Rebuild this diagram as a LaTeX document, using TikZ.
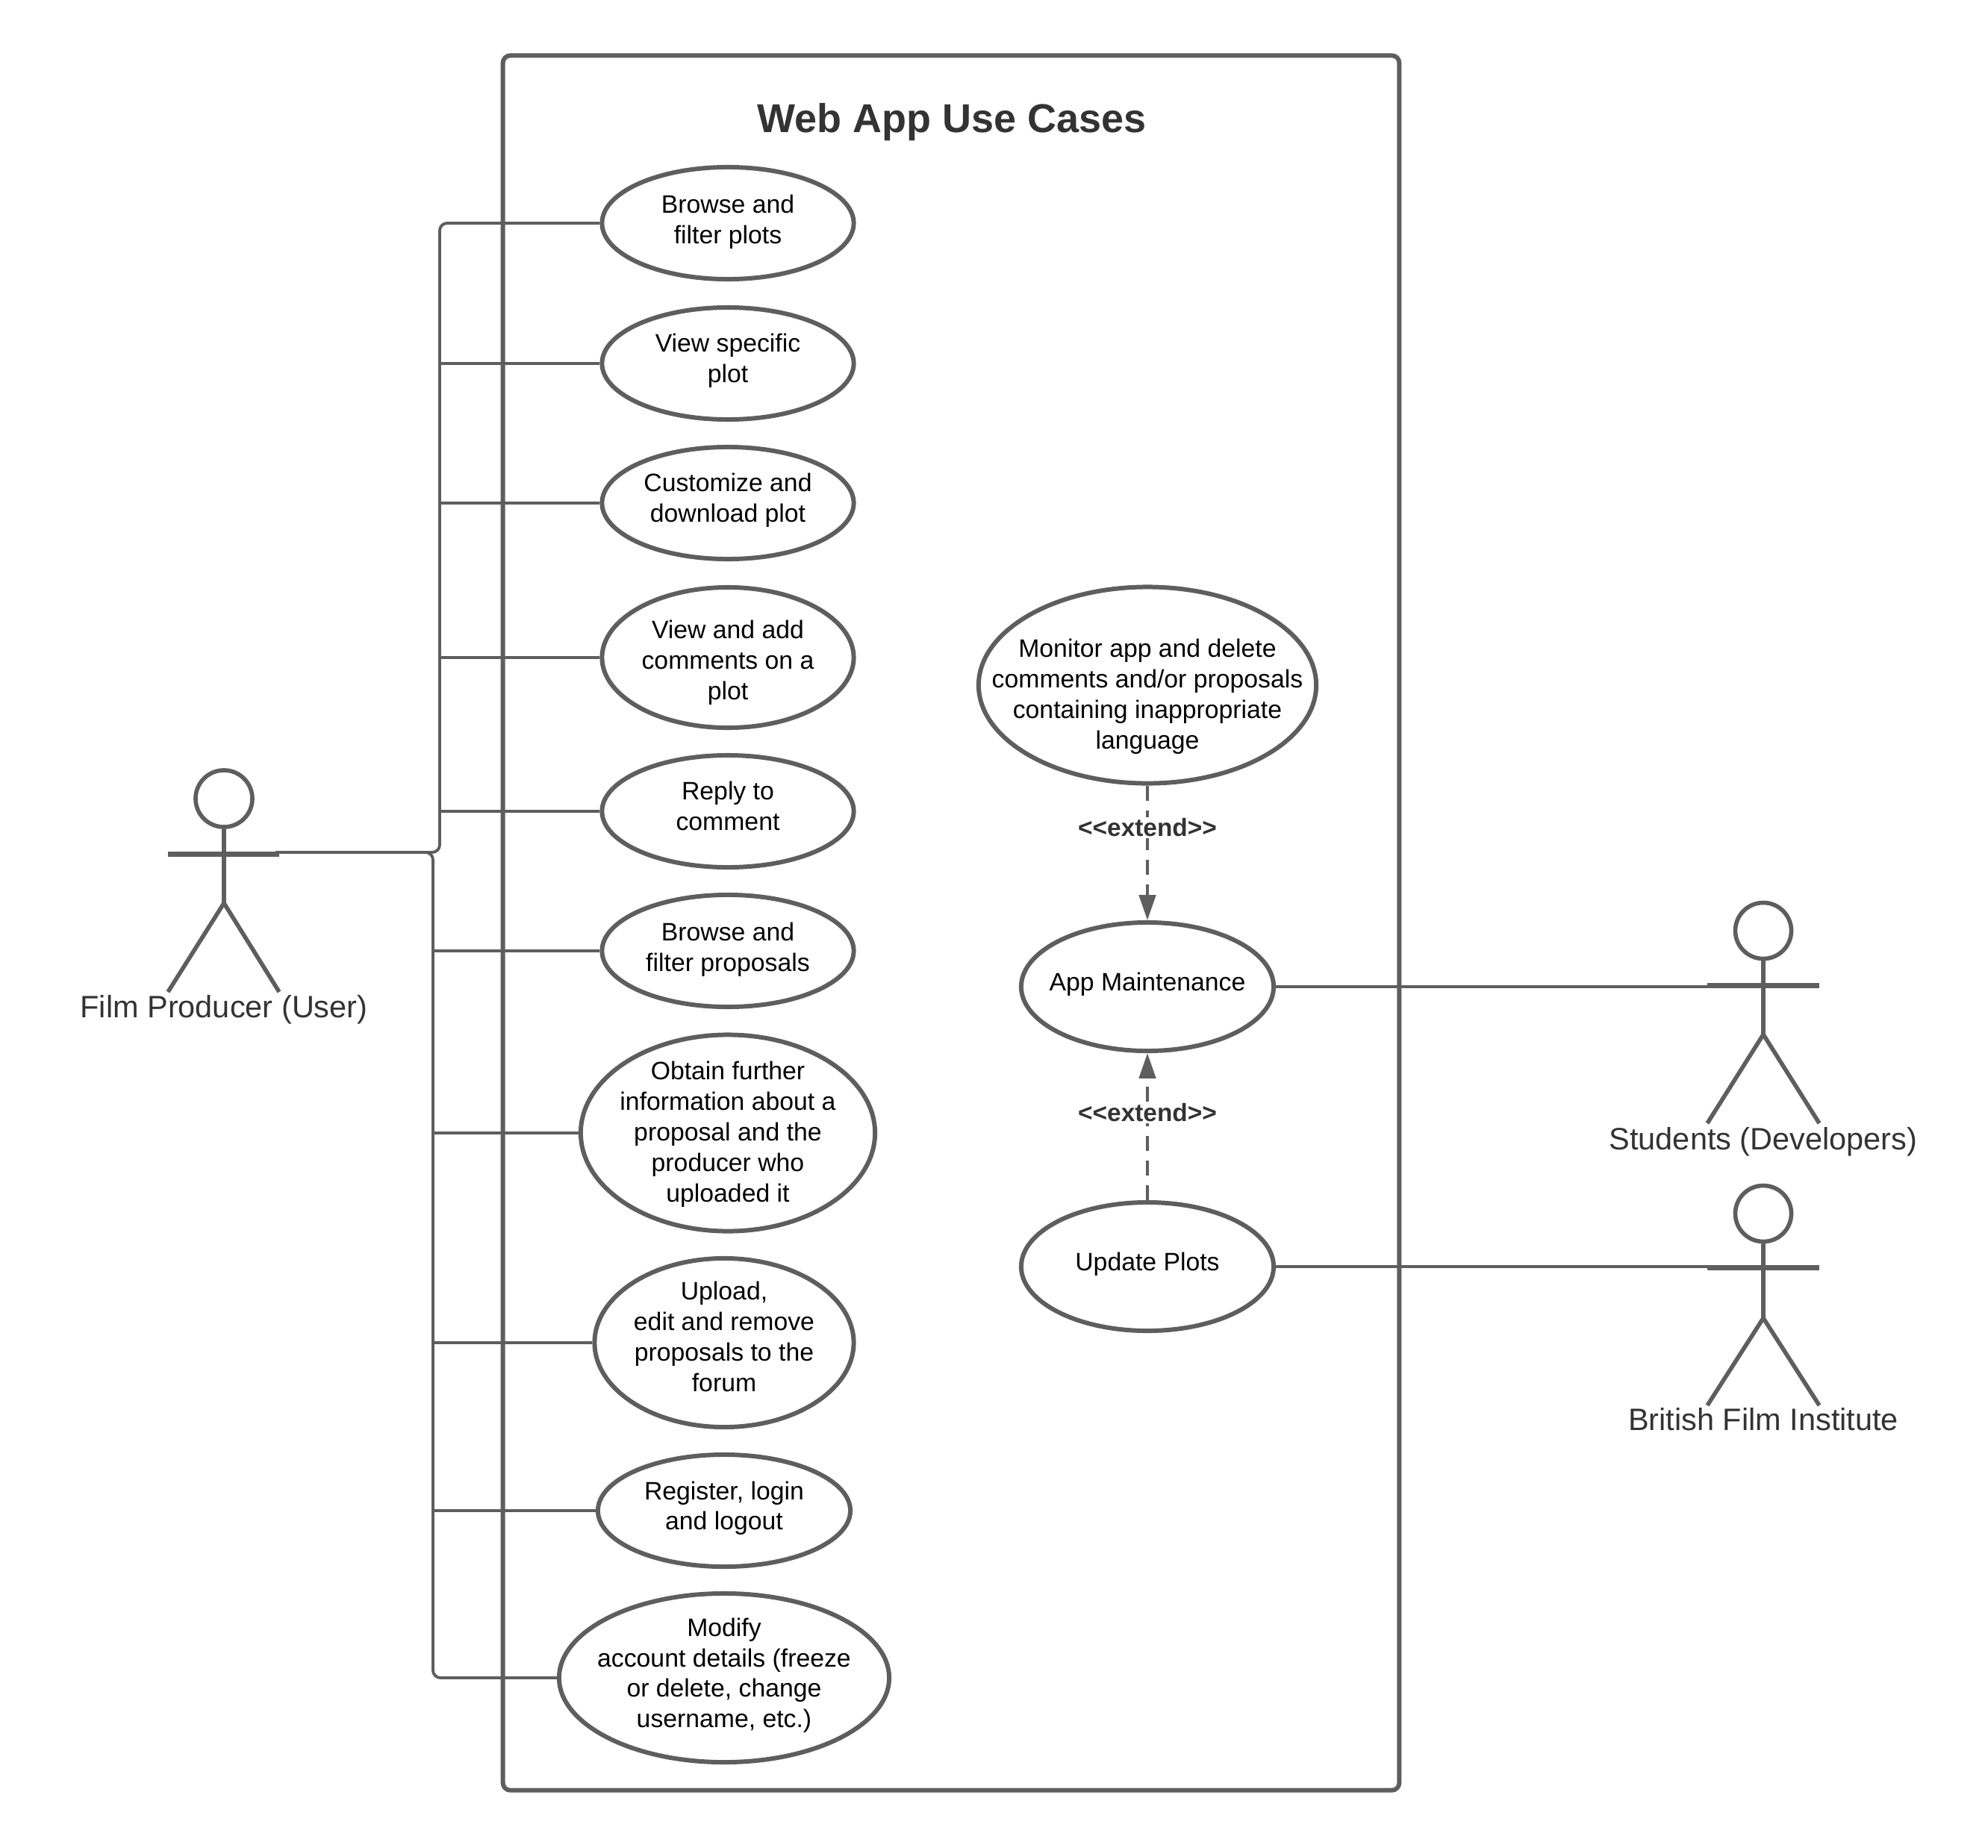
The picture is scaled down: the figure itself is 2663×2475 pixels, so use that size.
\documentclass[tikz,border=0pt]{standalone}
\usepackage{fontspec}
\setmainfont{Liberation Sans}
\usetikzlibrary{arrows.meta,shapes.geometric}
\definecolor{linegrey}{HTML}{5E5E5E}
\definecolor{textgrey}{HTML}{333333}
\newcommand{\toppad}[1]{\rule{0pt}{#1pt}}
\newcommand{\botpad}[1]{\rule[-#1pt]{0pt}{#1pt}}
\tikzset{
  usecase/.style={draw=linegrey,line width=1.7pt,ellipse,fill=white,align=center,inner sep=-1.2cm,text=black,font=\fontsize{9.6}{11.6}\selectfont},
  actorline/.style={draw=linegrey,line width=1.6pt},
  actorarm/.style={draw=linegrey,line width=2pt},
  actorlabel/.style={text=textgrey,font=\fontsize{11.8}{14}\selectfont},
  assoc/.style={draw=linegrey,line width=1.1pt,rounded corners=1mm},
  extendline/.style={draw=linegrey,line width=1.2pt,dash pattern=on 5.7pt off 3.7pt,-{Triangle[length=9.6pt,width=6.3pt]}},
  extendlabel/.style={fill=white,inner sep=0.6pt,text=textgrey,font=\fontsize{9.5}{11}\bfseries\selectfont}
}
\begin{document}
\begin{tikzpicture}[x=0.01cm,y=-0.01cm]
  \useasboundingbox (0,0) rectangle (2663,2475);
  \node[draw=linegrey,line width=1.7pt,rounded corners=1mm,minimum width=12cm,minimum height=23.23cm,inner sep=0pt] (frame) at (1274,1236.5) {};
  \node[text=textgrey,font=\fontsize{15.35}{19}\bfseries\selectfont] (title) at (1275,164) {Web App Use Cases};
  % left use cases
  \node[usecase,minimum width=3.37cm,minimum height=1.5cm] (browseplots) at (975,299) {Browse and\\filter plots\botpad{3}};
  \node[usecase,minimum width=3.37cm,minimum height=1.5cm] (viewplot) at (975,487) {View specific\\plot\botpad{3.9}};
  \node[usecase,minimum width=3.37cm,minimum height=1.5cm] (customize) at (975,674) {Customize and\\download plot\botpad{3.9}};
  \node[usecase,minimum width=3.37cm,minimum height=1.88cm] (comments) at (975,881) {\toppad{10.9}View and add\\comments on a\\plot};
  \node[usecase,minimum width=3.37cm,minimum height=1.5cm] (reply) at (975,1087) {Reply to\\comment\botpad{3.9}};
  \node[usecase,minimum width=3.37cm,minimum height=1.5cm] (browseprops) at (975,1274) {Browse and\\filter proposals\botpad{3}};
  \node[usecase,minimum width=3.94cm,minimum height=2.63cm] (obtain) at (975,1518) {\toppad{8}Obtain further\\information about a\\proposal and the\\producer who\\uploaded it};
  \node[usecase,minimum width=3.47cm,minimum height=2.26cm] (upload) at (970,1799) {Upload,\\edit and remove\\proposals to the\\forum\botpad{4.8}};
  \node[usecase,minimum width=3.38cm,minimum height=1.5cm] (register) at (970,2024) {Register, login\\and logout\botpad{3.9}};
  \node[usecase,minimum width=4.42cm,minimum height=2.26cm] (modify) at (970,2248) {Modify\\account details (freeze\\or delete, change\\username, etc.)\botpad{3.9}};
  % right use cases
  \node[usecase,minimum width=4.52cm,minimum height=2.63cm] (monitor) at (1537,918) {\toppad{15.7}Monitor app and delete\\comments and/or proposals\\containing inappropriate\\language};
  \node[usecase,minimum width=3.38cm,minimum height=1.72cm] (maintain) at (1537,1322) {App Maintenance\botpad{3.9}};
  \node[usecase,minimum width=3.38cm,minimum height=1.72cm] (update) at (1537,1697) {Update Plots\botpad{3.9}};
  \draw[extendline] (monitor.south) -- (maintain.north);
  \draw[extendline] (update.north) -- (maintain.south);
  \node[extendlabel] (extendtop) at (1537,1109) {<{}<extend>{}>};
  \node[extendlabel] (extendbottom) at (1537,1491) {<{}<extend>{}>};
  % film producer
  \node[actorline,circle,minimum size=0.76cm,inner sep=0pt] (filmhead) at (300,1070) {};
  \coordinate (filmhip) at (300,1210);
  \coordinate (filmhand) at (374,1144);
  \draw[actorline] (filmhead.south) -- (filmhip);
  \draw[actorarm] (225,1144) -- (filmhand);
  \draw[actorline] (225,1329) -- (filmhip) -- (374,1329);
  \node[actorlabel] (filmlabel) at (300,1353) {Film Producer (User)};
  % students
  \node[actorline,circle,minimum size=0.75cm,inner sep=0pt] (studenthead) at (2362,1247) {};
  \coordinate (studenthip) at (2362,1386);
  \coordinate (studenthand) at (2287,1320);
  \draw[actorline] (studenthead.south) -- (studenthip);
  \draw[actorarm] (studenthand) -- (2437,1320);
  \draw[actorline] (2287,1505) -- (studenthip) -- (2437,1505);
  \node[actorlabel] (studentlabel) at (2362,1530) {Students (Developers)};
  % british film institute
  \node[actorline,circle,minimum size=0.75cm,inner sep=0pt] (bfihead) at (2362,1626) {};
  \coordinate (bfihip) at (2362,1766);
  \coordinate (bfihand) at (2287,1698);
  \draw[actorline] (bfihead.south) -- (bfihip);
  \draw[actorarm] (bfihand) -- (2437,1698);
  \draw[actorline] (2287,1883) -- (bfihip) -- (2437,1883);
  \node[actorlabel] (bfilabel) at (2362,1902) {British Film Institute};
  % associations
  \coordinate (upper) at (589,1142);
  \coordinate (lower) at (580,1142);
  \draw[assoc] (369,1142) -- (upper) |- (browseplots.west);
  \draw[assoc] (369,1142) -- (lower) |- (modify.west);
  \draw[assoc] (viewplot.west) -- (viewplot.west -| upper);
  \draw[assoc] (customize.west) -- (customize.west -| upper);
  \draw[assoc] (comments.west) -- (comments.west -| upper);
  \draw[assoc] (reply.west) -- (reply.west -| upper);
  \draw[assoc] (browseprops.west) -- (browseprops.west -| lower);
  \draw[assoc] (obtain.west) -- (obtain.west -| lower);
  \draw[assoc] (upload.west) -- (upload.west -| lower);
  \draw[assoc] (register.west) -- (register.west -| lower);
  \draw[assoc] (maintain.east) -- (maintain.east -| studenthand);
  \draw[assoc] (update.east) -- (update.east -| bfihand);
\end{tikzpicture}
\end{document}
